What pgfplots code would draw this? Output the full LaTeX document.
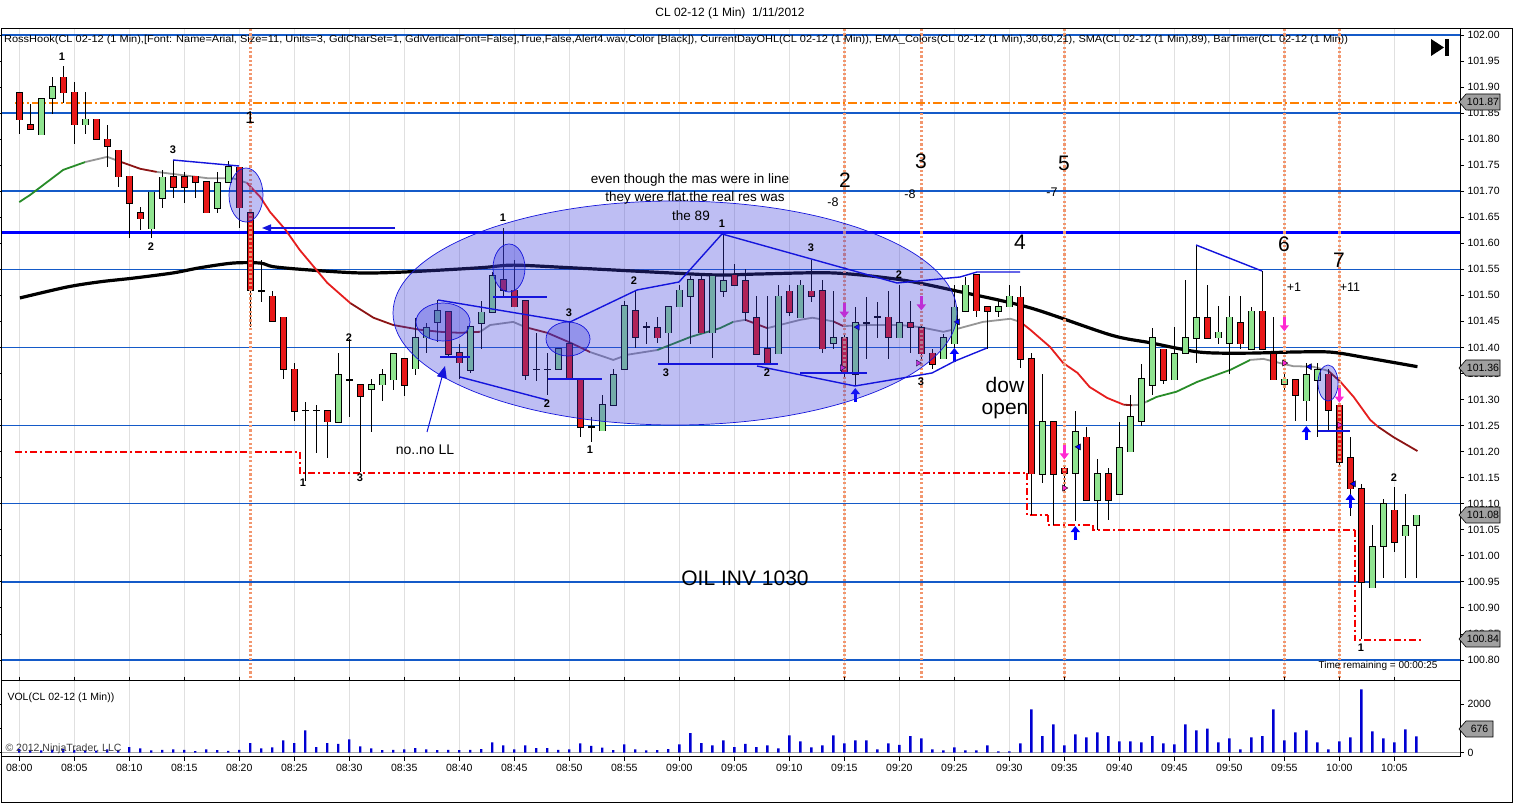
\documentclass[border=0pt]{standalone}
\usepackage{fontspec}
\setmainfont{Liberation Sans}
\usepackage{graphicx}
\usepackage{pgfplots}
\usepackage{pgfplotstable}
\pgfplotsset{compat=1.18}
\usetikzlibrary{arrows.meta}
\definecolor{upc}{RGB}{144,228,144}
\definecolor{dnc}{RGB}{232,24,24}
\definecolor{gridb}{RGB}{20,90,200}
\definecolor{emag}{RGB}{40,140,40}
\definecolor{emagr}{RGB}{150,150,150}
\definecolor{emadr}{RGB}{140,20,20}
\definecolor{emar}{RGB}{230,30,30}
\definecolor{dotc}{RGB}{242,150,110}
\definecolor{ellf}{RGB}{60,60,220}
\definecolor{annb}{RGB}{20,20,220}
\definecolor{volb}{RGB}{0,0,210}
\definecolor{sig}{RGB}{255,40,210}
\definecolor{tagg}{RGB}{160,160,160}
\definecolor{lowc}{RGB}{245,0,0}
\newcommand\fs[1]{\fontsize{#1}{#1}\selectfont}

\pgfplotstableread{
m o h l c
0 101.890 101.890 101.810 101.838
1 101.828 101.869 101.819 101.819
2 101.809 101.878 101.809 101.878
3 101.878 101.920 101.850 101.900
4 101.919 101.940 101.869 101.890
5 101.890 101.910 101.790 101.828
6 101.828 101.891 101.810 101.838
7 101.838 101.838 101.800 101.800
8 101.800 101.828 101.747 101.787
9 101.779 101.779 101.709 101.728
10 101.729 101.729 101.610 101.678
11 101.659 101.670 101.626 101.648
12 101.629 101.699 101.610 101.699
13 101.688 101.741 101.669 101.728
14 101.729 101.760 101.688 101.709
15 101.729 101.738 101.678 101.709
16 101.729 101.729 101.688 101.718
17 101.718 101.718 101.659 101.659
18 101.669 101.738 101.659 101.718
19 101.718 101.758 101.718 101.747
20 101.747 101.747 101.629 101.669
21 101.659 101.659 101.440 101.510
22 101.510 101.568 101.488 101.510
23 101.498 101.510 101.450 101.450
24 101.458 101.458 101.339 101.359
25 101.359 101.370 101.258 101.279
26 101.279 101.298 101.146 101.279
27 101.279 101.290 101.198 101.279
28 101.279 101.279 101.189 101.258
29 101.258 101.389 101.258 101.348
30 101.339 101.416 101.267 101.339
31 101.329 101.329 101.162 101.307
32 101.320 101.339 101.238 101.329
33 101.329 101.359 101.298 101.348
34 101.339 101.389 101.320 101.389
35 101.379 101.379 101.307 101.329
36 101.359 101.458 101.348 101.419
37 101.419 101.448 101.389 101.438
38 101.448 101.491 101.410 101.470
39 101.470 101.470 101.380 101.389
40 101.389 101.408 101.339 101.370
41 101.357 101.440 101.350 101.440
42 101.448 101.489 101.398 101.469
43 101.469 101.545 101.469 101.539
44 101.530 101.630 101.498 101.510
45 101.510 101.569 101.478 101.478
46 101.489 101.489 101.337 101.347
47 101.359 101.430 101.337 101.359
48 101.359 101.389 101.309 101.359
49 101.359 101.398 101.359 101.398
50 101.408 101.450 101.339 101.339
51 101.339 101.339 101.229 101.248
52 101.248 101.267 101.219 101.248
53 101.240 101.309 101.240 101.290
54 101.290 101.359 101.290 101.349
55 101.359 101.489 101.359 101.480
56 101.470 101.509 101.400 101.420
57 101.439 101.450 101.409 101.439
58 101.439 101.458 101.409 101.420
59 101.429 101.478 101.368 101.478
60 101.478 101.520 101.478 101.510
61 101.498 101.539 101.408 101.530
62 101.530 101.539 101.429 101.429
63 101.429 101.539 101.379 101.539
64 101.509 101.616 101.498 101.530
65 101.539 101.562 101.520 101.520
66 101.530 101.550 101.450 101.469
67 101.458 101.500 101.389 101.389
68 101.398 101.500 101.368 101.368
69 101.389 101.520 101.389 101.499
70 101.509 101.520 101.460 101.469
71 101.458 101.530 101.458 101.520
72 101.509 101.569 101.488 101.499
73 101.509 101.530 101.389 101.398
74 101.409 101.509 101.398 101.419
75 101.419 101.425 101.345 101.352
76 101.350 101.478 101.327 101.448
77 101.448 101.498 101.379 101.448
78 101.459 101.489 101.419 101.459
79 101.458 101.509 101.379 101.420
80 101.420 101.520 101.420 101.448
81 101.448 101.489 101.389 101.439
82 101.439 101.445 101.380 101.389
83 101.389 101.398 101.360 101.368
84 101.379 101.428 101.379 101.419
85 101.408 101.520 101.400 101.478
86 101.470 101.536 101.470 101.520
87 101.539 101.539 101.460 101.470
88 101.478 101.478 101.398 101.470
89 101.470 101.490 101.458 101.478
90 101.478 101.520 101.478 101.498
91 101.498 101.518 101.360 101.379
92 101.379 101.389 101.078 101.158
93 101.158 101.349 101.139 101.258
94 101.258 101.258 101.059 101.158
95 101.168 101.175 101.120 101.158
96 101.158 101.280 101.069 101.238
97 101.229 101.248 101.108 101.108
98 101.108 101.187 101.050 101.158
99 101.158 101.168 101.069 101.108
100 101.119 101.258 101.119 101.208
101 101.200 101.309 101.200 101.267
102 101.258 101.370 101.250 101.339
103 101.329 101.439 101.309 101.419
104 101.398 101.398 101.330 101.339
105 101.339 101.439 101.339 101.389
106 101.389 101.530 101.389 101.419
107 101.419 101.597 101.370 101.458
108 101.458 101.520 101.419 101.419
109 101.419 101.480 101.408 101.429
110 101.408 101.500 101.349 101.458
111 101.448 101.500 101.398 101.408
112 101.398 101.479 101.398 101.470
113 101.470 101.547 101.398 101.398
114 101.389 101.458 101.339 101.339
115 101.329 101.350 101.320 101.339
116 101.339 101.339 101.258 101.309
117 101.299 101.370 101.258 101.349
118 101.339 101.370 101.229 101.358
119 101.349 101.358 101.240 101.280
120 101.290 101.290 101.170 101.181
121 101.189 101.229 101.078 101.130
122 101.130 101.139 100.840 100.950
123 100.940 101.059 100.940 101.019
124 101.019 101.110 100.958 101.100
125 101.089 101.133 101.008 101.028
126 101.040 101.119 100.958 101.059
127 101.059 101.078 100.958 101.078
}\candles

\pgfplotstableread{
m v
0 150
1 120
2 100
3 130
4 160
5 120
6 100
7 90
8 140
9 120
10 230
11 180
12 100
13 120
14 140
15 120
16 70
17 140
18 110
19 80
20 120
21 400
22 180
23 220
24 510
25 400
26 920
27 230
28 400
29 360
30 550
31 260
32 180
33 110
34 120
35 140
36 190
37 140
38 110
39 120
40 110
41 120
42 150
43 430
44 300
45 140
46 300
47 190
48 190
49 120
50 140
51 390
52 280
53 210
54 110
55 340
56 140
57 100
58 110
59 150
60 340
61 810
62 400
63 300
64 510
65 230
66 360
67 230
68 300
69 180
70 720
71 470
72 220
73 300
74 720
75 390
76 510
77 510
78 140
79 390
80 320
81 680
82 590
83 140
84 100
85 220
86 100
87 100
88 300
89 55
90 55
91 390
92 1790
93 680
94 1170
95 300
96 760
97 630
98 840
99 680
100 470
101 470
102 430
103 680
104 390
105 345
106 1170
107 920
108 1000
109 430
110 590
111 140
112 630
113 680
114 1790
115 510
116 840
117 920
118 430
119 140
120 470
121 630
122 2620
123 880
124 590
125 430
126 960
127 676
}\vol

\pgfplotsset{candle/.style={no markers, draw=none, forget plot,
  error bars/y dir=both, error bars/y explicit, error bars/error mark=none},
  hgrid/.style={draw=gridb, line width=1.5pt, forget plot},
  lowl/.style={draw=lowc, line width=2pt, dash pattern=on 7pt off 3pt on 2pt off 3pt, forget plot}}

\begin{document}
\begin{tikzpicture}[x=1pt,y=1pt]
\useasboundingbox (0,0) rectangle (1513,803);
\fill[white] (0,0) rectangle (1513,803);

% ---------------- price panel ----------------
\begin{axis}[
  at={(1pt,122.3pt)}, anchor=south west, scale only axis,
  width=1459pt, height=652.7pt,
  xmin=-1.66, xmax=130.97, ymin=100.760, ymax=102.0134,
  axis line style={black, line width=0.8pt},
  xtick={0,5,...,125}, xticklabels={}, xtick style={draw=none},
  xmajorgrids=true, x grid style={black!12, line width=0.8pt},
  ytick={100.80,100.85,100.90,100.95,101.00,101.05,101.10,101.15,101.20,101.25,101.30,101.35,101.40,101.45,101.50,101.55,101.60,101.65,101.70,101.75,101.80,101.85,101.90,101.95,102.00},
  yticklabel pos=right, ytick align=outside, major tick length=4pt,
  ytick style={black, line width=0.6pt},
  yticklabel style={font=\fs{10.5}, /pgf/number format/.cd, fixed, fixed zerofill, precision=2, assume math mode=true},
]
% horizontal grid every 0.15
\addplot[hgrid] coordinates {(-1.66,100.80) (130.97,100.80)};
\addplot[hgrid] coordinates {(-1.66,100.95) (130.97,100.95)};
\addplot[hgrid] coordinates {(-1.66,101.10) (130.97,101.10)};
\addplot[hgrid] coordinates {(-1.66,101.25) (130.97,101.25)};
\addplot[hgrid] coordinates {(-1.66,101.40) (130.97,101.40)};
\addplot[hgrid] coordinates {(-1.66,101.55) (130.97,101.55)};
\addplot[hgrid] coordinates {(-1.66,101.70) (130.97,101.70)};
\addplot[hgrid] coordinates {(-1.66,101.85) (130.97,101.85)};
\addplot[hgrid] coordinates {(-1.66,102.00) (130.97,102.00)};
% current day high / low
\addplot[orange, line width=1.8pt, dash pattern=on 9pt off 3pt on 2pt off 3pt] coordinates {(-0.4,101.87) (130.8,101.87)};
\addplot[lowl] coordinates {(-0.4,101.20) (25.5,101.20)};
\addplot[lowl] coordinates {(25.5,101.20) (25.5,101.159) (91.6,101.159)};
\addplot[lowl] coordinates {(91.6,101.159) (91.6,101.078) (93.5,101.078)};
\addplot[lowl] coordinates {(93.5,101.078) (93.5,101.059) (97.6,101.059)};
\addplot[lowl] coordinates {(97.6,101.059) (97.6,101.05) (121.4,101.05)};
\addplot[lowl] coordinates {(121.4,101.05) (121.4,100.838) (127.5,100.838)};
% resistance line
\addplot[blue, line width=3pt] coordinates {(-1.66,101.62) (130.97,101.62)};
% SMA 89
\addplot[black, line width=3.2pt, smooth] coordinates {(0.06,101.495) (4.34,101.516) (7.34,101.526) (10.34,101.533) (13.97,101.543) (16.43,101.553) (19.43,101.562) (21.9,101.562) (23.1,101.555) (26.2,101.549) (30.97,101.543) (35.2,101.545) (41.9,101.553) (44.9,101.558) (50.1,101.553) (59.2,101.543) (63.7,101.539) (67.3,101.541) (74,101.543) (80.1,101.530) (85.5,101.507) (91.9,101.476) (99.2,101.424) (102.8,101.409) (107.3,101.391) (111.6,101.389) (115.5,101.391) (119.2,101.391) (122.5,101.380) (127.1,101.363)};
% EMA colored
\addplot[emag, line width=1.8pt] coordinates {(0,101.679) (1.0,101.693) (4.0,101.741) (6.0,101.756)};
\addplot[emagr, line width=1.8pt] coordinates {(6.0,101.756) (8.0,101.766) (9.0,101.758)};
\addplot[emadr, line width=1.8pt] coordinates {(9.0,101.758) (11.0,101.743) (12.5,101.737)};
\addplot[emagr, line width=1.8pt] coordinates {(12.5,101.737) (14.0,101.733) (17.1,101.725) (19.4,101.725) (20.7,101.716)};
\addplot[emar, line width=1.8pt] coordinates {(20.7,101.716) (21.9,101.689) (22.8,101.660) (24.2,101.626) (25.5,101.587) (28.0,101.524) (30.1,101.485)};
\addplot[emadr, line width=1.8pt] coordinates {(30.1,101.485) (32.2,101.457) (34.0,101.443) (36.4,101.434) (38.2,101.430) (40.1,101.428) (41.9,101.430)};
\addplot[emagr, line width=1.8pt] coordinates {(41.9,101.430) (42.8,101.443) (44.9,101.449) (46.0,101.439)};
\addplot[emadr, line width=1.8pt] coordinates {(46.0,101.439) (48.0,101.428) (50.1,101.409) (51.9,101.391)};
\addplot[emagr, line width=1.8pt] coordinates {(51.9,101.391) (54.0,101.376) (55.3,101.386) (58.0,101.395)};
\addplot[emag, line width=1.8pt] coordinates {(58.0,101.395) (61.0,101.420) (63.7,101.437) (64.9,101.449)};
\addplot[emagr, line width=1.8pt] coordinates {(64.9,101.449) (66.0,101.453)};
\addplot[emadr, line width=1.8pt] coordinates {(66.0,101.453) (68.0,101.437)};
\addplot[emagr, line width=1.8pt] coordinates {(68.0,101.437) (71.0,101.453) (72.1,101.457) (74.0,101.450)};
\addplot[emadr, line width=1.8pt] coordinates {(74.0,101.450) (74.9,101.441)};
\addplot[emagr, line width=1.8pt] coordinates {(74.9,101.441) (77.1,101.443) (80.1,101.443) (81.9,101.439) (84.0,101.430) (85.5,101.437) (87.6,101.449) (90.1,101.455) (91.0,101.449)};
\addplot[emar, line width=1.8pt] coordinates {(91.0,101.449) (91.9,101.434) (93.7,101.401) (94.9,101.370) (96.2,101.351) (97.3,101.324) (98.9,101.303) (100.4,101.290)};
\addplot[emadr, line width=1.8pt] coordinates {(100.4,101.290) (101.2,101.289)};
\addplot[emagr, line width=1.8pt] coordinates {(101.2,101.289) (101.9,101.290) (102.5,101.296)};
\addplot[emag, line width=1.8pt] coordinates {(102.5,101.296) (103.4,101.305) (105.2,101.315) (107.1,101.334) (110.1,101.357) (111.9,101.376)};
\addplot[emagr, line width=1.8pt] coordinates {(111.9,101.376) (113.1,101.378) (114.6,101.370) (115.8,101.364) (117.6,101.363) (119.0,101.355)};
\addplot[emadr, line width=1.8pt] coordinates {(119.0,101.355) (120.1,101.334)};
\addplot[emar, line width=1.8pt] coordinates {(120.1,101.334) (121.3,101.305) (122.8,101.261) (123.5,101.248)};
\addplot[emadr, line width=1.8pt] coordinates {(123.5,101.248) (124.9,101.228) (127.1,101.201)};

% candles: wicks
\addplot[candle, error bars/error bar style={draw=black, line width=1pt}]
  table[x=m, y expr={(\thisrow{h}+\thisrow{l})/2}, y error expr={(\thisrow{h}-\thisrow{l})/2}] {\candles};
% bodies outline
\addplot[candle, error bars/error bar style={draw=black, line width=6.6pt}]
  table[x=m, y expr={(\thisrow{o}+\thisrow{c})/2}, y error expr={abs(\thisrow{o}-\thisrow{c})/2+0.0012}] {\candles};
% up bodies
\addplot[candle, error bars/error bar style={draw=upc, line width=4.6pt}]
  table[x expr={\thisrow{c}>\thisrow{o} ? \thisrow{m} : nan}, y expr={(\thisrow{o}+\thisrow{c})/2}, y error expr={abs(\thisrow{o}-\thisrow{c})/2}] {\candles};
% down bodies
\addplot[candle, error bars/error bar style={draw=dnc, line width=4.6pt}]
  table[x expr={\thisrow{c}<\thisrow{o} ? \thisrow{m} : nan}, y expr={(\thisrow{o}+\thisrow{c})/2}, y error expr={abs(\thisrow{o}-\thisrow{c})/2}] {\candles};

% dotted entry lines
\addplot[dotc, line width=2.6pt, dash pattern=on 2.2pt off 2.2pt] coordinates {(21,100.765) (21,102.012)};
\addplot[dotc, line width=2.6pt, dash pattern=on 2.2pt off 2.2pt] coordinates {(75,100.765) (75,102.012)};
\addplot[dotc, line width=2.6pt, dash pattern=on 2.2pt off 2.2pt] coordinates {(82,100.765) (82,102.012)};
\addplot[dotc, line width=2.6pt, dash pattern=on 2.2pt off 2.2pt] coordinates {(95,100.765) (95,102.012)};
\addplot[dotc, line width=2.6pt, dash pattern=on 2.2pt off 2.2pt] coordinates {(115,100.765) (115,102.012)};
\addplot[dotc, line width=2.6pt, dash pattern=on 2.2pt off 2.2pt] coordinates {(120,100.765) (120,102.012)};

% signal arrows
\addplot[sig, line width=3pt, -{Triangle[length=6pt,width=9pt]}, quiver={u=0,v=-0.028}] coordinates {(75,101.485) (82,101.499) (95,101.213) (115,101.459) (120,101.322)};
\addplot[blue, line width=3pt, -{Triangle[length=6pt,width=9pt]}, quiver={u=0,v=0.027}] coordinates {(76,101.295) (85,101.372) (96,101.030) (117,101.222) (121,101.092)};
\addplot[only marks, mark=triangle*, mark size=3.5pt, mark options={rotate=-90, fill=sig, draw=none}] coordinates {(74.8,101.361) (81.7,101.370) (95,101.130) (115,101.370) (120,101.251)};
\addplot[only marks, mark=triangle*, mark size=3.5pt, mark options={rotate=90, fill=blue, draw=none}] coordinates {(76.2,101.439) (85.3,101.449) (96.3,101.209) (117.3,101.363) (121.3,101.138)};
\end{axis}

% ---------------- volume panel ----------------
\begin{axis}[
  at={(1pt,46.3pt)}, anchor=south west, scale only axis,
  width=1459pt, height=76pt,
  xmin=-1.66, xmax=130.97, ymin=-165, ymax=2975,
  axis line style={black, line width=0.8pt},
  xtick={0,5,...,125},
  xticklabels={08:00,08:05,08:10,08:15,08:20,08:25,08:30,08:35,08:40,08:45,08:50,08:55,09:00,09:05,09:10,09:15,09:20,09:25,09:30,09:35,09:40,09:45,09:50,09:55,10:00,10:05},
  xtick align=outside, major tick length=4pt,
  xtick style={black, line width=0.6pt},
  xmajorgrids=true, x grid style={black!12, line width=0.8pt},
  ytick={0,1000,2000}, yticklabel pos=right, ytick align=outside,
  ytick style={black, line width=0.6pt},
  ticklabel style={font=\fs{10.5}},
  yticklabel style={/pgf/number format/.cd, 1000 sep={}, assume math mode=true},
]
\addplot[gray!70, line width=1.2pt] coordinates {(-1.66,0) (130.97,0)};
\addplot[ybar, bar width=2.4pt, bar shift=0pt, fill=volb, draw=none] table[x=m, y=v] {\vol};
\end{axis}

% ---------------- annotations (pixel coordinates) ----------------
\begin{scope}[shift={(0,803)}, yscale=-1]
% outer frame
\draw[black, line width=0.8pt] (1,28) rectangle (1512,802);
% title & legend text
\node[font=\fs{12}] at (730,13) {CL 02-12 (1 Min)\ \ 1/11/2012};
\node[anchor=west, font=\fs{10}, inner sep=0pt] at (4,40) {\resizebox{1344pt}{\height}{RossHook(CL 02-12 (1 Min),[Font: Name=Arial, Size=11, Units=3, GdiCharSet=1, GdiVerticalFont=False],True,False,Alert4.wav,Color [Black]), CurrentDayOHL(CL 02-12 (1 Min)), EMA\_Colors(CL 02-12 (1 Min),30,60,21), SMA(CL 02-12 (1 Min),89), BarTimer(CL 02-12 (1 Min))}};
% play icon
\fill[black] (1431,39) -- (1431,56) -- (1444,47.5) -- cycle;
\fill[black] (1445,39) rectangle (1449,56);
% ellipses
\begin{scope}[fill=ellf, fill opacity=0.33, draw=annb, line width=0.7pt]
\filldraw (675,313) ellipse [x radius=282, y radius=112];
\filldraw (443,322) ellipse [x radius=27, y radius=19];
\filldraw (509,268) ellipse [x radius=16, y radius=24];
\filldraw (568,339) ellipse [x radius=22, y radius=17];
\filldraw (246,195) ellipse [x radius=17, y radius=27];
\filldraw (1328,383) ellipse [x radius=10, y radius=18];
\end{scope}
% hook lines
\begin{scope}[draw=annb, line width=1.4pt]
\draw (173,160) -- (239,166);
\draw[-{Triangle[length=9pt,width=7pt]}] (395,228) -- (262,228);
\draw (438,300) -- (570,322) -- (637,290) -- (679,282) -- (722,234) -- (897,283) -- (960,277) -- (977,272) -- (1020,272);
\draw (440,357) -- (470,357);
\draw (493,297) -- (547,297);
\draw (548,379) -- (602,379);
\draw (658,364) -- (778,364);
\draw (800,373) -- (867,373);
\draw (1318,431) -- (1350,431);
\draw (460,377) -- (547,400);
\draw (757,366) -- (855,386) -- (932,373) -- (955,361) -- (987,348);
\draw (1196,245) -- (1262,271);
\draw[line width=1pt, -{Triangle[length=12pt,width=10pt]}] (427,432) -- (445,366);
\end{scope}
% small wave labels
\begin{scope}[font=\fs{11}\bfseries]
\node at (62,57) {1};
\node at (173,150) {3};
\node at (151,247) {2};
\node at (349,338) {2};
\node at (303,483) {1};
\node at (360,478) {3};
\node at (503,218) {1};
\node at (569,313) {3};
\node at (547,404) {2};
\node at (590,450) {1};
\node at (634,281) {2};
\node at (666,373) {3};
\node at (722,224) {1};
\node at (811,248) {3};
\node at (767,373) {2};
\node at (899,275) {2};
\node at (921,382) {3};
\node at (1361,648) {1};
\node at (1394,478) {2};
\end{scope}
\node[font=\fs{17}] at (250,118) {1};
\node[font=\fs{14}] at (425,450) {no..no LL};
\begin{scope}[font=\fs{13.5}, inner sep=0pt]
\node at (690,180) {even though the mas were in line};
\node at (695,198) {they were flat.the real res was};
\node at (691,216) {the 89};
\end{scope}
\begin{scope}[font=\fs{21}]
\node at (845,180) {2};
\node at (921,161) {3};
\node at (1064,163) {5};
\node at (1020,242) {4};
\node at (1284,244) {6};
\node at (1339,260) {7};
\node at (1005,385) {dow};
\node at (1005,411) {open};
\node at (745,578) {OIL INV 1030};
\end{scope}
\begin{scope}[font=\fs{12.5}]
\node at (833,202) {-8};
\node at (910,194) {-8};
\node at (1052,192) {-7};
\node at (1294,287) {+1};
\node at (1350,287) {+11};
\end{scope}
\node[font=\fs{10}] at (1378,666) {Time remaining = 00:00:25};
% volume panel texts
\node[anchor=west, font=\fs{10.5}] at (4,698) {VOL(CL 02-12 (1 Min))};
\node[anchor=west, font=\fs{10.5}, text=black!75] at (2,749) {\textcopyright{} 2012 NinjaTrader, LLC};
% price tags
\foreach \yy/\tt in {102/101.87, 368/101.36, 515/101.08, 639/100.84} {
  \draw[fill=tagg, line width=0.6pt] (1459,\yy) -- (1466,\yy-8) -- (1500,\yy-8) -- (1500,\yy+8) -- (1466,\yy+8) -- cycle;
  \node[font=\fs{10.5}, inner sep=0pt] at (1483,\yy) {\tt};
}
\draw[fill=tagg, line width=0.6pt] (1459,729) -- (1466,721) -- (1493,721) -- (1493,737) -- (1466,737) -- cycle;
\node[font=\fs{10.5}, inner sep=0pt] at (1479.5,729) {676};
\end{scope}
\end{tikzpicture}
\end{document}
